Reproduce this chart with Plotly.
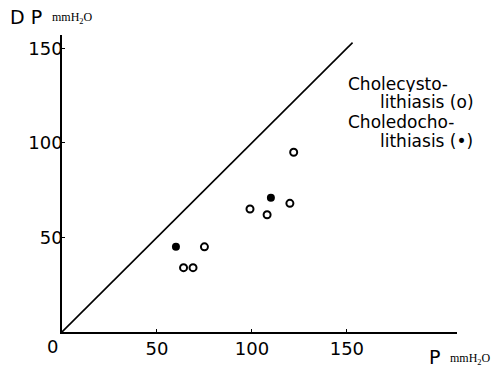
import plotly.graph_objects as go

# Data
open_x = [64, 69, 75, 99, 108, 120, 122]     # Cholecystolithiasis (open circles)
open_y = [34, 34, 45, 65, 62, 68, 95]
filled_x = [60, 110]                          # Choledocholithiasis (filled circles)
filled_y = [45, 71]
line_x = [0, 153]                             # identity line DP = P
line_y = [0, 153]
x_ticks = [50, 100, 150]
y_ticks = [50, 100, 150]

FONT = "DejaVu Sans, sans-serif"
SERIF = "Liberation Serif, serif"

fig = go.Figure()
fig.add_trace(go.Scatter(x=line_x, y=line_y, mode="lines",
                         line=dict(color="black", width=1.6), showlegend=False))
fig.add_trace(go.Scatter(x=open_x, y=open_y, mode="markers",
                         marker=dict(symbol="circle-open", size=7, color="black",
                                     line=dict(width=2)), showlegend=False))
fig.add_trace(go.Scatter(x=filled_x, y=filled_y, mode="markers",
                         marker=dict(symbol="circle", size=8, color="black"),
                         showlegend=False))

fig.update_layout(
    width=494, height=371,
    margin=dict(l=62, r=37, t=35, b=39),
    paper_bgcolor="white", plot_bgcolor="white",
    font=dict(family=FONT, color="black"),
    xaxis=dict(range=[0, 208], showgrid=False, zeroline=False,
               showline=True, linecolor="black", linewidth=1.6,
               tickmode="array", tickvals=x_ticks, ticktext=[str(v) for v in x_ticks],
               ticks="inside", ticklen=3, tickcolor="black",
               tickfont=dict(size=18, family=FONT)),
    yaxis=dict(range=[0, 157], showgrid=False, zeroline=False,
               showline=True, linecolor="black", linewidth=1.6,
               tickmode="array", tickvals=y_ticks, ticktext=[str(v) for v in y_ticks],
               ticks="inside", ticklen=3, tickcolor="black", ticklabelstandoff=-6,
               tickfont=dict(size=18, family=FONT)),
)

ann = []
# origin label
ann.append(dict(x=52, y=346, text="0", showarrow=False, xanchor="center",
                font=dict(size=18, family=FONT)))
# y axis title
ann.append(dict(x=8, y=17, text="D P", showarrow=False, xanchor="left",
                font=dict(size=19, family=FONT)))
ann.append(dict(x=50, y=18, text="mmH<sub>2</sub>O", showarrow=False, xanchor="left",
                font=dict(size=12, family=SERIF)))
# x axis title
ann.append(dict(x=427, y=357, text="P", showarrow=False, xanchor="left",
                font=dict(size=19, family=FONT)))
ann.append(dict(x=448, y=359, text="mmH<sub>2</sub>O", showarrow=False, xanchor="left",
                font=dict(size=12, family=SERIF)))
# legend text
legend_lines = [("Cholecysto-", 347, 83),
                ("lithiasis (o)", 379, 102),
                ("Choledocho-", 347, 121),
                ("lithiasis (•)", 379, 140)]
for t, x, y in legend_lines:
    ann.append(dict(x=x, y=y, text=t, showarrow=False, xanchor="left",
                    height=17, borderpad=0, valign="middle",
                    font=dict(size=17, family=FONT)))

# convert pixel positions to paper coords
for a in ann:
    a["xref"] = "paper"; a["yref"] = "paper"
    a["x"] = (a["x"] - 62) / (494 - 62 - 37)
    a["y"] = (371 - 39 - a["y"]) / (371 - 35 - 39)
    a["yanchor"] = "middle"
fig.update_layout(annotations=ann)

fig.write_html("out.html")
